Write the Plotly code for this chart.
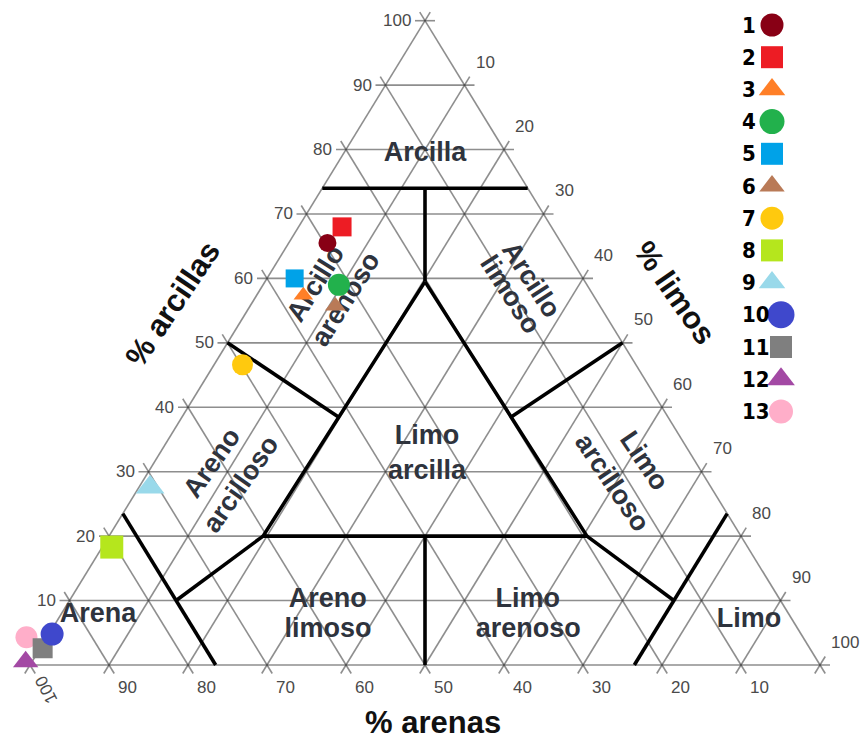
import plotly.graph_objects as go

# ---- Soil samples (percentages) ----
samples = ["1", "2", "3", "4", "5", "6", "7", "8", "9", "10", "11", "12", "13"]
clay = [65.5, 68.0, 57.4, 59.0, 60.0, 55.7, 46.6, 18.3, 27.6, 4.8, 2.6, 0.5, 4.3]
silt = [4.9, 5.5, 5.9, 9.6, 3.5, 10.8, 3.6, 1.2, 1.4, 0.4, 0.3, -0.8, -2.6]
sand = [round(100 - c - s, 1) for c, s in zip(clay, silt)]

colors = ["#880015", "#ED1C24", "#FF7F27", "#22B14C", "#00A2E8", "#B97A57", "#FFC90E",
          "#B5E61D", "#99D9EA", "#3F48CC", "#7F7F7F", "#A349A4", "#FFAEC9"]
symbols = ["circle", "square", "triangle-up"] * 4 + ["circle"]
plot_sizes = [18, 19, 17, 22, 18, 18, 21, 23, 25, 23, 20, 22, 22]
# stacking of the sample markers (higher = drawn on top)
stack = [13, 12, 10, 11, 12, 8, 7, 6, 5, 4, 3, 2, 1]

# ---- Texture class boundaries, each vertex as (clay %, silt %) ----
boundaries = [
    [(74, 0), (74, 26)],
    [(74, 13), (59.5, 20.25)],
    [(59.5, 20.25), (20, 19.5), (20, 60.5), (59.5, 20.25)],
    [(20, 40), (0, 50)],
    [(50, 0), (38.5, 19.8)],
    [(50, 50), (38.5, 41.65)],
    [(20, 19.5), (10, 13.5)],
    [(20, 60.5), (10, 76.5)],
    [(23.5, 0), (0, 23.5)],
    [(23.5, 76.5), (0, 76.5)],
]

# ---- Class names: (text, clay %, silt %, angle) ----
class_labels = [
    ("Arcilla", 79.6, 10.2, 0),
    ("Arcillo", 59.0, 6.3, -58),
    ("arenoso", 56.6, 11.3, -58),
    ("Arcillo", 59.6, 34.0, 57),
    ("limoso", 57.3, 32.5, 57),
    ("Areno", 31.2, 7.1, -55),
    ("arcilloso", 27.9, 12.4, -55),
    ("Limo", 31.5, 62.35, 56),
    ("arcilloso", 28.1, 60.0, 56),
    ("Limo", 35.7, 32.4, 0),
    ("arcilla", 30.3, 35.1, 0),
    ("Areno", 10.4, 32.5, 0),
    ("limoso", 5.74, 34.85, 0),
    ("Limo", 10.4, 57.8, 0),
    ("arenoso", 5.74, 60.2, 0),
    ("Arena", 8.07, 4.57, 0),
    ("Limo", 7.3, 87.35, 0),
]

tick_values = list(range(10, 101, 10))

# ---- Plot geometry (pixels) ----
W, H = 867, 740
X0, Y0 = 30.0, 665.0          # sand corner
SIDE_PX, HEIGHT_PX = 790.0, 644.3
KX, KY = SIDE_PX / 100.0, HEIGHT_PX / 100.0


def to_xy(c, s):
    """Clay/silt composition -> cartesian chart units (0..100 along the base)."""
    return s + c / 2.0, c


fig = go.Figure()

# Grid: constant clay, sand and silt lines every 10 %, slightly overshooting the edges
ext_h = 10.0 / KX
ext_d = 10.0 / ((0.5 * KX) ** 2 + KY ** 2) ** 0.5
gx, gy = [], []
for v in range(0, 101, 10):
    # clay = v
    xa, ya = to_xy(v, 0)
    xb, yb = to_xy(v, 100 - v)
    gx += [xa - ext_h, xb + ext_h, None]
    gy += [ya, yb, None]
    # sand = v
    xa, ya = to_xy(100 - v, 0)
    xb, yb = to_xy(0, 100 - v)
    gx += [xa - 0.5 * ext_d, xb + 0.5 * ext_d, None]
    gy += [ya + ext_d, yb - ext_d, None]
    # silt = v
    xa, ya = to_xy(0, v)
    xb, yb = to_xy(100 - v, v)
    gx += [xa - 0.5 * ext_d, xb + 0.5 * ext_d, None]
    gy += [ya - ext_d, yb + ext_d, None]

fig.add_trace(go.Scatter(x=gx, y=gy, mode="lines", hoverinfo="skip",
                         line=dict(color="rgba(60,60,60,0.58)", width=1.6)))

# Texture class boundaries
bx, by = [], []
for poly in boundaries:
    for c, s in poly:
        x, y = to_xy(c, s)
        bx.append(x)
        by.append(y)
    bx.append(None)
    by.append(None)
fig.add_trace(go.Scatter(x=bx, y=by, mode="lines", hoverinfo="skip",
                         line=dict(color="black", width=3.6)))

# Samples
for i in sorted(range(len(samples)), key=lambda k: stack[k]):
    x, y = to_xy(clay[i], silt[i])
    fig.add_trace(go.Scatter(
        x=[x], y=[y], mode="markers", name=samples[i],
        customdata=[[clay[i], silt[i], sand[i]]],
        hovertemplate="Muestra " + samples[i] +
        "<br>Arcilla %{customdata[0]}%<br>Limo %{customdata[1]}%<br>Arena %{customdata[2]}%<extra></extra>",
        marker=dict(symbol=symbols[i], size=plot_sizes[i], color=colors[i], line=dict(width=0)),
    ))

# Legend column drawn on a pixel-unit overlay
leg_top, leg_step = 25.0, 32.2
leg_sizes = [23, 22, 23, 25, 22, 22, 23, 22, 23, 27, 22, 24, 24]
for i in range(len(samples)):
    yy = leg_top + leg_step * i
    xx = 772 if len(samples[i]) == 1 else 781
    fig.add_trace(go.Scatter(
        x=[xx], y=[yy], xaxis="x2", yaxis="y2", mode="markers", hoverinfo="skip",
        marker=dict(symbol=symbols[i], size=leg_sizes[i], color=colors[i], line=dict(width=0)),
    ))

annotations = []

# Legend numbers
for i, name in enumerate(samples):
    annotations.append(dict(
        x=740, y=leg_top + leg_step * i, xref="x2", yref="y2", text="<b>" + name + "</b>",
        showarrow=False, xanchor="left", yanchor="middle",
        font=dict(family="Liberation Sans Narrow, DejaVu Sans Condensed, Liberation Sans", size=22,
                  color="black"),
    ))

tick_font = dict(family="Liberation Sans, Arial", size=17, color="#4a4a4a")

# Clay ticks on the left edge
for v in tick_values:
    x, y = to_xy(v, 0)
    annotations.append(dict(x=x, y=y, text=str(v), showarrow=False, xanchor="right",
                            yanchor="middle", xshift=-12, font=tick_font))
# Silt ticks on the right edge
for v in tick_values:
    x, y = to_xy(100 - v, v)
    annotations.append(dict(x=x, y=y, text=str(v), showarrow=False, xanchor="left",
                            yanchor="middle", xshift=9, yshift=23, font=tick_font))
# Sand ticks on the base
for v in tick_values:
    x, y = to_xy(0, 100 - v)
    if v == 100:
        annotations.append(dict(x=x, y=y, text=str(v), showarrow=False, xanchor="center",
                                yanchor="middle", xshift=16, yshift=-25, textangle=-117,
                                font=tick_font))
    else:
        annotations.append(dict(x=x, y=y, text=str(v), showarrow=False, xanchor="center",
                                yanchor="middle", xshift=18, yshift=-22, font=tick_font))

# Class names, kept beneath the sample markers
lift = 3.0 / KY
for text, c, s, ang in class_labels:
    x, y = to_xy(c, s)
    y += lift
    fig.add_shape(
        type="rect", x0=x - 0.05, x1=x + 0.05, y0=y - 0.05, y1=y + 0.05, layer="below",
        line=dict(width=0), fillcolor="rgba(0,0,0,0)",
        label=dict(text="<b>" + text + "</b>", textangle=ang, textposition="middle center",
                   font=dict(family="Liberation Sans, Arial", size=27, color="#2e333d")),
    )

# Axis titles
title_font = dict(family="Liberation Sans, Arial", size=31, color="#111111")
annotations += [
    dict(x=172 / W, y=1 - 304 / H, xref="paper", yref="paper", text="<b>% arcillas</b>",
         showarrow=False, textangle=-56, xanchor="center", yanchor="middle", font=title_font),
    dict(x=675 / W, y=1 - 292 / H, xref="paper", yref="paper", text="<b>% limos</b>",
         showarrow=False, textangle=55, xanchor="center", yanchor="middle", font=title_font),
    dict(x=433 / W, y=1 - 722 / H, xref="paper", yref="paper", text="<b>% arenas</b>",
         showarrow=False, xanchor="center", yanchor="middle", font=title_font),
]

fig.update_layout(
    width=W, height=H,
    margin=dict(l=0, r=0, t=0, b=0),
    paper_bgcolor="white", plot_bgcolor="white",
    showlegend=False,
    xaxis=dict(range=[-X0 / KX, (W - X0) / KX], visible=False, fixedrange=True),
    yaxis=dict(range=[(Y0 - H) / KY, Y0 / KY], visible=False, fixedrange=True),
    xaxis2=dict(range=[0, W], overlaying="x", anchor="y2", visible=False, fixedrange=True),
    yaxis2=dict(range=[H, 0], overlaying="y", anchor="x2", visible=False, fixedrange=True),
    annotations=annotations,
)

fig.write_html("out.html", config={"displayModeBar": False})
